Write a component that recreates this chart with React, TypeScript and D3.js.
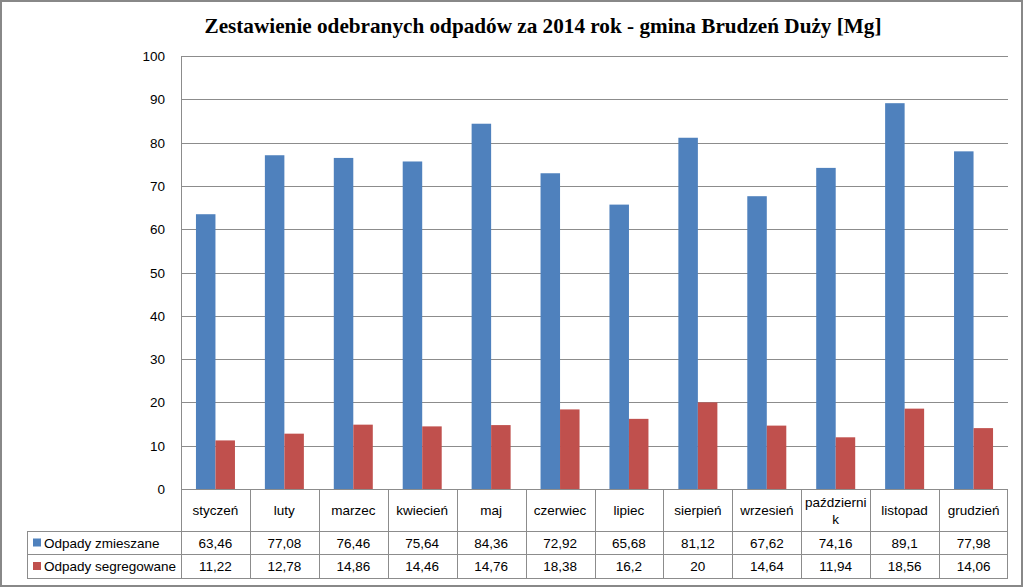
import React from "react";
import * as d3 from "d3";

const months = ["styczeń","luty","marzec","kwiecień","maj","czerwiec","lipiec","sierpień","wrzesień","październik","listopad","grudzień"];
const monthLines: string[][] = [["styczeń"],["luty"],["marzec"],["kwiecień"],["maj"],["czerwiec"],["lipiec"],["sierpień"],["wrzesień"],["październi","k"],["listopad"],["grudzień"]];
const mixed = [63.46,77.08,76.46,75.64,84.36,72.92,65.68,81.12,67.62,74.16,89.1,77.98];
const sorted = [11.22,12.78,14.86,14.46,14.76,18.38,16.2,20,14.64,11.94,18.56,14.06];
const seriesNames = ["Odpady zmieszane","Odpady segregowane"];
const colors = ["#4F81BD","#C0504D"];
const yTicks = [0,10,20,30,40,50,60,70,80,90,100];
const title = "Zestawienie  odebranych  odpadów  za 2014 rok - gmina Brudzeń Duży [Mg]";

const fmt = (v: number) => String(v).replace(".", ",");

export default function App() {
  const W = 1023, H = 587;
  const left = 181, right = 1008, top = 56, bottom = 489;
  const x = d3.scaleBand<string>().domain(months).range([left, right]);
  const inner = d3.scaleBand<number>().domain([0,1]).range([0, 39]);
  const y = d3.scaleLinear().domain([0,100]).range([bottom, top]);
  const series = [mixed, sorted];
  const rowY = [489, 531, 554, 578];
  const tableLeft = 27;
  const font = "'Liberation Sans', Arial, sans-serif";
  const fs = 13.5;
  const grid = "#8c8c8c";
  return (
    <svg width={W} height={H} style={{position:"absolute", left:0, top:0}} xmlns="http://www.w3.org/2000/svg">
      <rect x={0} y={0} width={W} height={H} fill="#fff"/>
      <rect x={1} y={1} width={W-2} height={H-2} fill="none" stroke="#888" strokeWidth={2}/>
      <text x={543} y={33} textAnchor="middle" fontFamily="'Liberation Serif', 'Times New Roman', serif" fontWeight="bold" fontSize={21} textLength={677} lengthAdjust="spacingAndGlyphs">{title}</text>
      {yTicks.map(t => (
        <g key={t}>
          {t > 0 && <line x1={left} x2={right} y1={Math.round(y(t))+0.5} y2={Math.round(y(t))+0.5} stroke={grid} strokeWidth={1}/>}
          <text x={165} y={y(t)+5} textAnchor="end" fontFamily={font} fontSize={fs} fill="#000">{t}</text>
        </g>
      ))}
      <line x1={left+0.5} x2={left+0.5} y1={top} y2={bottom} stroke={grid}/>
      {series.map((s, si) => s.map((v, i) => {
        const x0 = (x(months[i]) as number) + x.bandwidth()/2 - 19.5 + (inner(si) as number);
        return <rect key={si+"-"+i} x={x0} y={y(v)} width={inner.bandwidth()} height={bottom - y(v)} fill={colors[si]}/>;
      }))}
      <line x1={left} x2={right} y1={bottom+0.5} y2={bottom+0.5} stroke={grid}/>
      <line x1={tableLeft} x2={right} y1={rowY[1]+0.5} y2={rowY[1]+0.5} stroke={grid}/>
      <line x1={tableLeft} x2={right} y1={rowY[2]+0.5} y2={rowY[2]+0.5} stroke={grid}/>
      <line x1={tableLeft} x2={right} y1={rowY[3]+0.5} y2={rowY[3]+0.5} stroke={grid}/>
      <line x1={tableLeft+0.5} x2={tableLeft+0.5} y1={rowY[1]} y2={rowY[3]} stroke={grid}/>
      {months.map((m, i) => (
        <line key={"v"+i} x1={Math.round(x(m) as number)+0.5} x2={Math.round(x(m) as number)+0.5} y1={bottom} y2={rowY[3]} stroke={grid}/>
      ))}
      <line x1={right-0.5} x2={right-0.5} y1={bottom} y2={rowY[3]} stroke={grid}/>
      {monthLines.map((lines, i) => {
        const cx = (x(months[i]) as number) + x.bandwidth()/2;
        const n = lines.length;
        return lines.map((l, li) => (
          <text key={"m"+i+li} x={cx} y={(rowY[0]+rowY[1])/2 + 5 + (li - (n-1)/2)*17} textAnchor="middle" fontFamily={font} fontSize={fs}>{l}</text>
        ));
      })}
      {series.map((s, si) => (
        <g key={"row"+si}>
          <rect x={33} y={(rowY[si+1]+rowY[si+2])/2 - 4} width={8} height={8} fill={colors[si]}/>
          <text x={44} y={(rowY[si+1]+rowY[si+2])/2 + 5} fontFamily={font} fontSize={fs}>{seriesNames[si]}</text>
          {s.map((v, i) => (
            <text key={i} x={(x(months[i]) as number) + x.bandwidth()/2} y={(rowY[si+1]+rowY[si+2])/2 + 5} textAnchor="middle" fontFamily={font} fontSize={fs}>{fmt(v)}</text>
          ))}
        </g>
      ))}
    </svg>
  );
}
